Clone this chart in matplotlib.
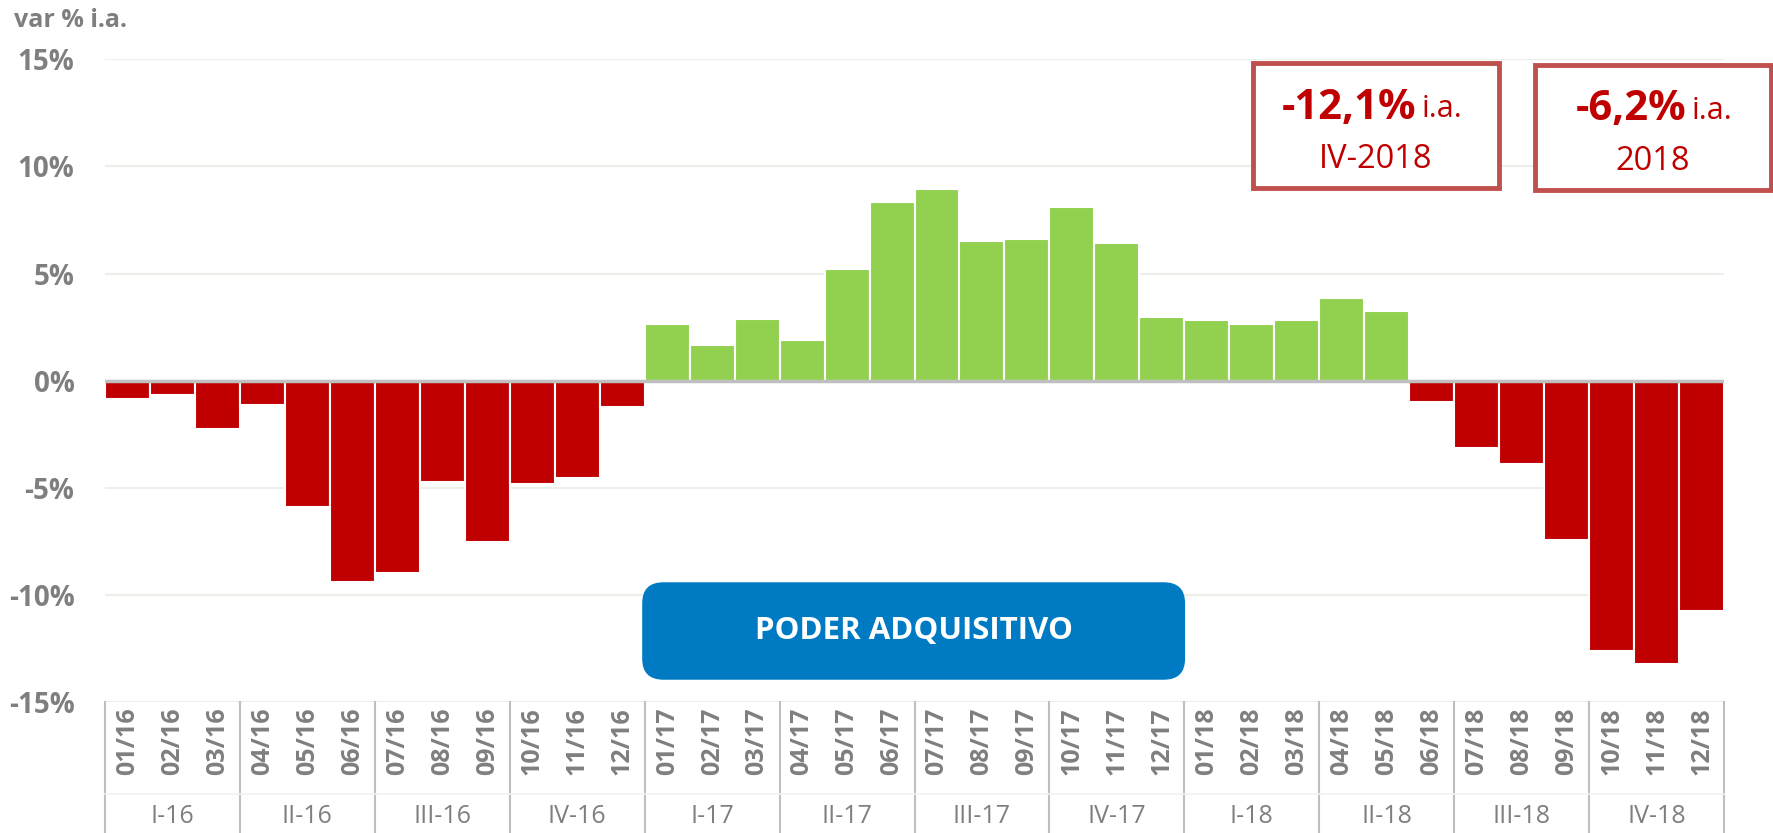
import matplotlib.pyplot as plt
from matplotlib.patches import FancyBboxPatch, Rectangle
from matplotlib.transforms import blended_transform_factory

months = ["01/16", "02/16", "03/16", "04/16", "05/16", "06/16",
          "07/16", "08/16", "09/16", "10/16", "11/16", "12/16",
          "01/17", "02/17", "03/17", "04/17", "05/17", "06/17",
          "07/17", "08/17", "09/17", "10/17", "11/17", "12/17",
          "01/18", "02/18", "03/18", "04/18", "05/18", "06/18",
          "07/18", "08/18", "09/18", "10/18", "11/18", "12/18"]
values = [-0.84, -0.65, -2.24, -1.12, -5.88, -9.38,
          -8.97, -4.71, -7.51, -4.84, -4.54, -1.24,
          2.63, 1.68, 2.87, 1.90, 5.19, 8.34,
          8.95, 6.50, 6.60, 8.10, 6.41, 2.98,
          2.82, 2.63, 2.84, 3.86, 3.26, -1.00,
          -3.14, -3.87, -7.42, -12.63, -13.23, -10.73]
quarters = ["I-16", "II-16", "III-16", "IV-16",
            "I-17", "II-17", "III-17", "IV-17",
            "I-18", "II-18", "III-18", "IV-18"]
yticks = [-15, -10, -5, 0, 5, 10, 15]

RED = "#C00000"
GREEN = "#92D050"
GRAY = "#7F7F7F"

plt.rcParams['font.family'] = ["Open Sans", "DejaVu Sans"]

fig = plt.figure(figsize=(17.73, 8.33), dpi=100)
ax = fig.add_axes([0.0592, 0.157, 0.9132, 0.772])

x = list(range(len(values)))
colors = [GREEN if v > 0 else RED for v in values]
ax.bar(x, values, width=1.0, color=colors, edgecolor="white", linewidth=1.5, zorder=3)

ax.set_xlim(-0.5, len(values) - 0.5)
ax.set_ylim(-15, 15)
ax.set_yticks(yticks)
ax.set_yticklabels([f"{t}%" for t in yticks], fontsize=20, fontweight="bold", color=GRAY)
ax.tick_params(axis="y", length=0, pad=22)
ax.set_xticks([])
for s in ax.spines.values():
    s.set_visible(False)
for t in yticks:
    if t != 0:
        ax.axhline(t, color="#EEEEE8", linewidth=1.5, zorder=1)
ax.axhline(0, color="#BFBFBF", linewidth=2.5, zorder=4)

# category axis below the plot
tr = blended_transform_factory(ax.transData, fig.transFigure)
for i, m in enumerate(months):
    ax.text(i, 0.110, m, transform=tr, rotation=90, ha="center", va="center",
            fontsize=18, fontweight="bold", color=GRAY, clip_on=False)
for q, name in enumerate(quarters):
    ax.text(3 * q + 1, 0.020, name, transform=tr, ha="center", va="center",
            fontsize=18, color=GRAY, clip_on=False)
for k in range(len(quarters) + 1):
    ax.plot([3 * k - 0.5, 3 * k - 0.5], [0.0, 0.157], transform=tr,
            color="#BFBFBF", linewidth=1.5, clip_on=False)
ax.plot([-0.5, len(values) - 0.5], [0.047, 0.047], transform=tr,
        color="#F2F2EE", linewidth=1.2, clip_on=False)

fig.text(0.008, 0.975, "var % i.a.", fontsize=18, fontweight="bold", color=GRAY,
         ha="left", va="center")

# summary boxes: (left, bottom, width, height, split x, big text, small text)
boxes = [(0.7067, 0.774, 0.1389, 0.150, 0.7986, "-12,1%", "IV-2018"),
         (0.8655, 0.772, 0.1333, 0.150, 0.9510, "-6,2%", "2018")]
for bx, by, bw, bh, sx, big, small in boxes:
    fig.patches.append(Rectangle((bx, by), bw, bh, transform=fig.transFigure,
                                 facecolor="white", edgecolor="#C0504D", linewidth=3.5,
                                 zorder=5))
    fig.text(sx, by + bh * 0.64, big, fontsize=30, fontweight="bold",
             color=RED, ha="right", va="center", zorder=6)
    fig.text(sx + 0.003, by + bh * 0.635, "i.a.", fontsize=22, color=RED,
             ha="left", va="center", zorder=6)
    fig.text(bx + bw / 2, by + bh * 0.23, small, fontsize=23.5, color=RED,
             ha="center", va="center", zorder=6)

# blue label
fig.patches.append(FancyBboxPatch((0.3622, 0.184), 0.3062, 0.117,
                                  boxstyle="round,pad=0,rounding_size=0.012",
                                  transform=fig.transFigure, facecolor="#007BC3",
                                  edgecolor="none", zorder=5, mutation_aspect=2.1))
fig.text(0.5153, 0.2425, "PODER ADQUISITIVO", fontsize=22.5, fontweight="bold",
         color="white", ha="center", va="center", zorder=6)

fig.savefig("out.png", dpi=100)
